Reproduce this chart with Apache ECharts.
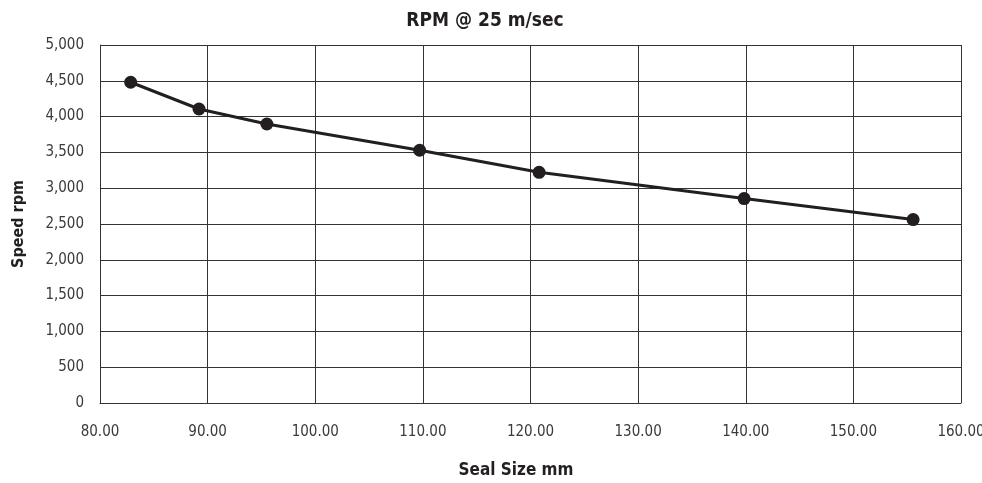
<!DOCTYPE html>
<html>
<head>
<meta charset="utf-8">
<script src="https://cdn.jsdelivr.net/npm/echarts@6/dist/echarts.min.js"></script>
<style>html,body{margin:0;padding:0;background:#fff;}#c{width:982px;height:483px;}</style>
</head>
<body>
<div id="c"></div>
<script>
var sealSize = [82.85, 89.2, 95.5, 109.7, 120.8, 139.85, 155.55];
var speedRpm = [4480, 4106, 3897, 3530, 3222, 2855, 2562];
var chartTitle = 'RPM @ 25 m/sec';
var xName = 'Seal Size mm';
var yName = 'Speed rpm';

var FONT = '"DejaVu Sans Condensed", "Liberation Sans Narrow", sans-serif';
var chart = echarts.init(document.getElementById('c'));
chart.setOption({
  backgroundColor: '#fff',
  animation: false,
  title: [
    { text: chartTitle, left: 480, top: 7, textAlign: 'center',
      textStyle: { fontFamily: FONT, fontWeight: 'bold', fontSize: 19, color: '#231f20' } },
    { text: xName, left: 511, top: 457, textAlign: 'center',
      textStyle: { fontFamily: FONT, fontWeight: 'bold', fontSize: 17, color: '#231f20' } }
  ],
  grid: { left: 100, right: 21, top: 45, bottom: 80, outerBoundsMode: 'none', containLabel: false },
  xAxis: {
    type: 'value', min: 80, max: 160, interval: 10,
    axisLine: { show: true, lineStyle: { color: '#333', width: 1 } },
    axisTick: { show: false },
    axisLabel: { margin: 22, fontFamily: FONT, fontSize: 15, color: '#3a3a3a',
      formatter: function (v) { return v.toFixed(2); } },
    splitLine: { show: true, lineStyle: { color: '#333', width: 1 } }
  },
  yAxis: {
    type: 'value', min: 0, max: 5000, interval: 500,
    name: yName, nameLocation: 'middle', nameGap: 73, nameRotate: 90,
    nameTextStyle: { fontFamily: FONT, fontWeight: 'bold', fontSize: 16, color: '#231f20' },
    axisLine: { show: true, lineStyle: { color: '#333', width: 1 } },
    axisTick: { show: false },
    axisLabel: { margin: 16, fontFamily: FONT, fontSize: 15, color: '#3a3a3a',
      formatter: function (v) { return v.toLocaleString('en-US'); } },
    splitLine: { show: true, lineStyle: { color: '#333', width: 1 } }
  },
  series: [{
    type: 'line',
    data: sealSize.map(function (x, i) { return [x, speedRpm[i]]; }),
    symbol: 'circle', symbolSize: 13,
    lineStyle: { color: '#231f20', width: 3 },
    itemStyle: { color: '#231f20' }
  }]
});
</script>
</body>
</html>
